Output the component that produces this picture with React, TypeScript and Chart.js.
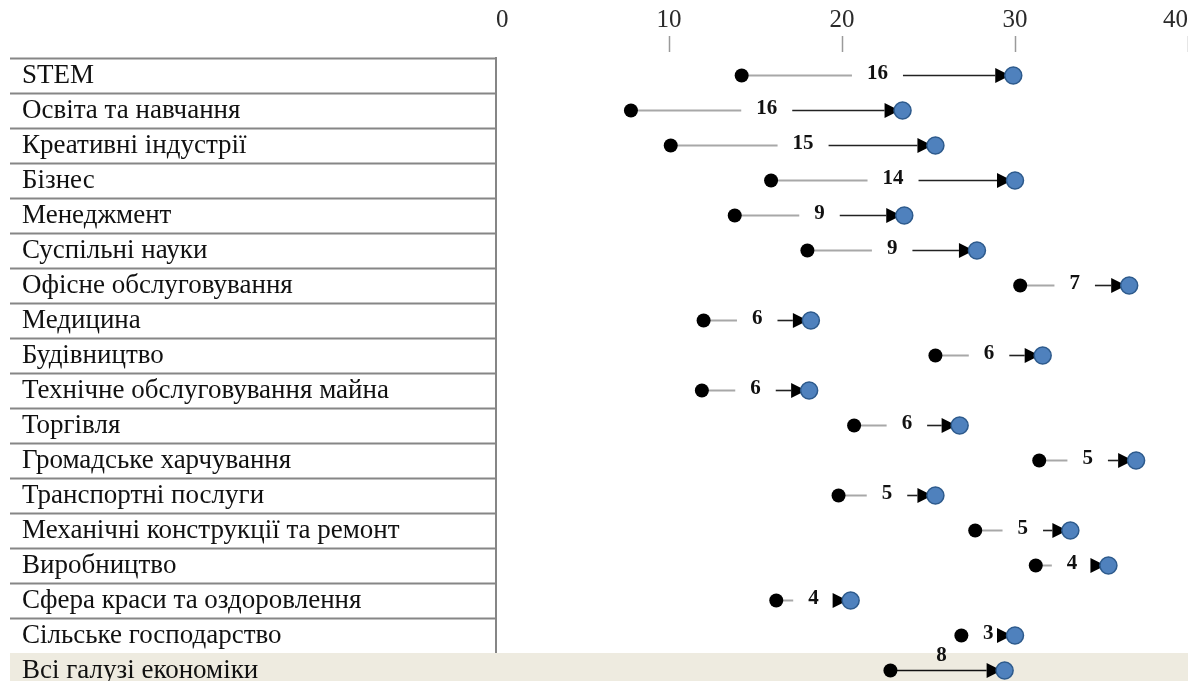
import React, { useEffect, useRef } from "react";
import { Chart, registerables } from "chart.js";

Chart.register(...registerables);

const categories = [
  "STEM",
  "Освіта та навчання",
  "Креативні індустрії",
  "Бізнес",
  "Менеджмент",
  "Суспільні науки",
  "Офісне обслуговування",
  "Медицина",
  "Будівництво",
  "Технічне обслуговування майна",
  "Торгівля",
  "Громадське харчування",
  "Транспортні послуги",
  "Механічні конструкції та ремонт",
  "Виробництво",
  "Сфера краси та оздоровлення",
  "Сільське господарство",
  "Всі галузі економіки",
];

const startValues = [14.2, 7.8, 10.1, 15.9, 13.8, 18.0, 30.3, 12.0, 25.4, 11.9, 20.7, 31.4, 19.8, 27.7, 31.2, 16.2, 26.9, 22.8];
const endValues = [29.9, 23.5, 25.4, 30.0, 23.6, 27.8, 36.6, 18.2, 31.6, 18.1, 26.8, 37.0, 25.4, 33.2, 35.4, 20.5, 30.0, 29.4];
const changeLabels = ["16", "16", "15", "14", "9", "9", "7", "6", "6", "6", "6", "5", "5", "5", "4", "4", "3", "8"];

const xMin = 0;
const xMax = 40;
const xStep = 10;

const SERIF = "'Liberation Serif', 'Times New Roman', serif";
const TABLE_LINE = "#868686";
const TOTAL_BG = "#eeebe0";
const TABLE_EXT = 486;

const segmentsPlugin = {
  id: "segments",
  beforeDatasetsDraw(chart: any) {
    const { ctx, scales } = chart;
    const x = scales.x;
    const y = scales.y;
    const n = categories.length;
    const rowH = y.getPixelForValue(1) - y.getPixelForValue(0);
    const lastC = y.getPixelForValue(n - 1);
    ctx.save();
    // total row background
    ctx.fillStyle = TOTAL_BG;
    ctx.fillRect(y.right - TABLE_EXT, lastC - rowH / 2, chart.width, rowH);
    ctx.font = "bold 21px " + SERIF;
    ctx.textAlign = "center";
    ctx.textBaseline = "middle";
    for (let i = 0; i < n; i++) {
      const x0 = x.getPixelForValue(startValues[i]);
      const x1 = x.getPixelForValue(endValues[i]);
      const yy = y.getPixelForValue(i);
      const label = changeLabels[i];
      const w = ctx.measureText(label).width;
      const mid = (x0 + x1) / 2;
      const arrowBase = x1 - 18;
      const arrowTip = x1 - 3;
      const isTotal = i === n - 1;
      if (isTotal) {
        ctx.strokeStyle = "#111";
        ctx.lineWidth = 1.6;
        ctx.beginPath();
        ctx.moveTo(x0, yy);
        ctx.lineTo(arrowBase, yy);
        ctx.stroke();
        ctx.fillStyle = "#111";
        ctx.fillText(label, mid - 6, yy - 15);
      } else {
        const gap = w / 2 + 15;
        const leftEnd = mid - gap;
        const rightStart = mid + gap;
        if (leftEnd > x0) {
          ctx.strokeStyle = "#a8a8a8";
          ctx.lineWidth = 2;
          ctx.beginPath();
          ctx.moveTo(x0, yy);
          ctx.lineTo(leftEnd, yy);
          ctx.stroke();
        }
        if (rightStart < arrowBase) {
          ctx.strokeStyle = "#222";
          ctx.lineWidth = 1.6;
          ctx.beginPath();
          ctx.moveTo(rightStart, yy);
          ctx.lineTo(arrowBase, yy);
          ctx.stroke();
        }
        ctx.fillStyle = "#111";
        ctx.fillText(label, mid, yy - 2);
      }
      // arrow head
      ctx.fillStyle = "#000";
      ctx.beginPath();
      ctx.moveTo(arrowBase, yy - 7.5);
      ctx.lineTo(arrowTip, yy);
      ctx.lineTo(arrowBase, yy + 7.5);
      ctx.closePath();
      ctx.fill();
    }
    ctx.restore();
  },
};

export default function App() {
  const canvasRef = useRef<HTMLCanvasElement | null>(null);

  useEffect(() => {
    if (!canvasRef.current) return;
    const n = categories.length;
    const chart = new Chart(canvasRef.current, {
      type: "line",
      data: {
        labels: categories,
        datasets: [
          {
            label: "start",
            data: startValues,
            showLine: false,
            pointRadius: 7,
            pointHoverRadius: 7,
            pointBackgroundColor: "#000",
            pointBorderColor: "#000",
            pointBorderWidth: 0,
          },
          {
            label: "end",
            data: endValues,
            showLine: false,
            pointRadius: 8.5,
            pointHoverRadius: 8.5,
            pointBackgroundColor: "#4f81bd",
            pointBorderColor: "#2d5a8c",
            pointBorderWidth: 1.5,
          },
        ],
      },
      options: {
        indexAxis: "y",
        animation: false,
        responsive: true,
        maintainAspectRatio: false,
        layout: { autoPadding: false, padding: { left: 14, right: 0, top: 0, bottom: 0 } },
        plugins: {
          legend: { display: false },
          tooltip: { enabled: false },
        },
        scales: {
          x: {
            type: "linear",
            position: "top",
            min: xMin,
            max: xMax,
            afterFit: (scale: any) => {
              scale.height = 50;
              scale.paddingLeft = 0;
              scale.paddingRight = 0;
            },
            border: { display: false },
            grid: {
              drawOnChartArea: false,
              drawTicks: true,
              tickLength: 22,
              tickBorderDash: [16, 10],
              tickWidth: 1.5,
              tickColor: (c: any) => (c.tick && c.tick.value === 0 ? "rgba(0,0,0,0)" : "#9a9a9a"),
            },
            ticks: {
              stepSize: xStep,
              padding: 1,
              align: "inner",
              color: "#2a2a2a",
              font: { family: SERIF, size: 25 },
            },
          },
          y: {
            type: "category",
            position: "left",
            offset: true,
            afterFit: (scale: any) => {
              scale.width = 474;
              scale.paddingTop = 0;
              scale.paddingBottom = 0;
            },
            border: { display: true, color: TABLE_LINE, width: 2, z: 0 },
            grid: {
              offset: true,
              drawOnChartArea: false,
              drawTicks: true,
              tickLength: TABLE_EXT,
              tickWidth: 2,
              tickColor: (c: any) =>
                c.index !== undefined && c.type === "tick" && c.index < n - 1 ? TABLE_LINE : "rgba(0,0,0,0)",
            },
            ticks: {
              crossAlign: "far",
              color: "#111",
              z: 1,
              autoSkip: false,
              font: { family: SERIF, size: 27 },
            },
          },
        },
      },
      plugins: [segmentsPlugin],
    } as any);
    return () => chart.destroy();
  }, []);

  return (
    <div style={{ position: "fixed", left: 8, top: 8, width: 1180, height: 680 }}>
      <canvas ref={canvasRef} />
    </div>
  );
}
